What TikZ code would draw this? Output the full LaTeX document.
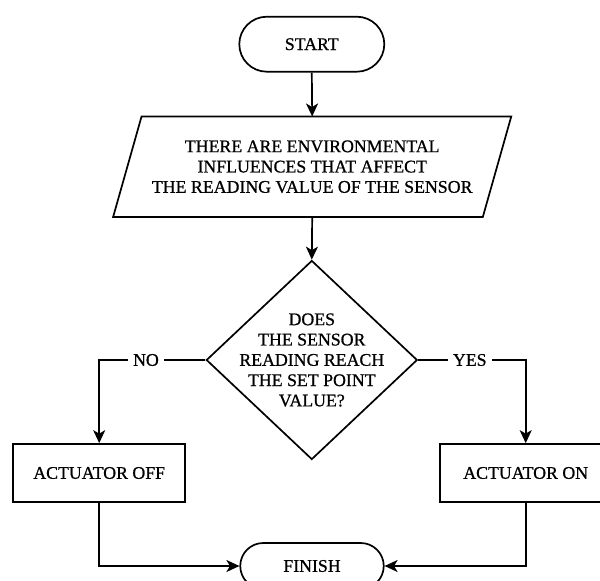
\documentclass[tikz,border=0pt]{standalone}
\usepackage{fontspec}
\setmainfont{Liberation Serif}[FakeBold=0.8]
\usetikzlibrary{shapes.geometric,arrows.meta,calc}
\begin{document}
\begin{tikzpicture}[x=1pt,y=-1pt,
  every node/.style={font=\fontsize{17.8}{20.3}\selectfont, align=center},
  line/.style={line width=1.7pt, draw=black},
  arr/.style={line, -{Stealth[length=13pt,width=12pt,inset=3.5pt]}},
  term/.style={line, rectangle, rounded corners=#1, inner sep=0pt},
  procbox/.style={line, rectangle, minimum width=172pt, minimum height=58pt, inner sep=0pt},
  lbl/.style={fill=white, inner xsep=5pt, inner ysep=2pt}
]
\useasboundingbox (0,0) rectangle (600,581);
\clip (0,0) rectangle (600,581);

\node[term=27.5pt, minimum width=145pt, minimum height=55pt] (start) at (311.8,44.2) {START};

\node[minimum width=369.3pt, minimum height=100pt, inner sep=0pt] (para) at (312.2,166.7)
  {THERE ARE ENVIRONMENTAL\\INFLUENCES THAT AFFECT\\THE READING VALUE OF THE SENSOR};
\draw[line] ($(para.north west)+(14.2,0)$) -- ($(para.north east)+(14.2,0)$)
  -- ($(para.south east)+(-14.2,0)$) -- ($(para.south west)+(-14.2,0)$) -- cycle;

\node[diamond, line, minimum width=211pt, minimum height=199pt, inner sep=0pt] (dec) at (311.8,360) {};
\node (dectext) at (311.8,360) {DOES\\THE SENSOR\\READING REACH\\THE SET POINT\\VALUE?};

\node[procbox] (off) at (99.2,473) {ACTUATOR OFF};
\node[procbox] (on) at (525.7,473) {ACTUATOR ON};

\node[term=23pt, minimum width=143.5pt, minimum height=46pt] (finish) at (312,566) {FINISH};

\draw[arr] (start.south) -- (para.north);
\draw[arr] (para.south) -- (dec.north);
\draw[arr] (dec.west) -| node[pos=0.28, lbl] {NO} (off.north);
\draw[arr] (dec.east) -| node[pos=0.24, lbl] {YES} (on.north);
\draw[arr] (off.south) |- (finish.west);
\draw[arr] (on.south) |- (finish.east);
\end{tikzpicture}
\end{document}
